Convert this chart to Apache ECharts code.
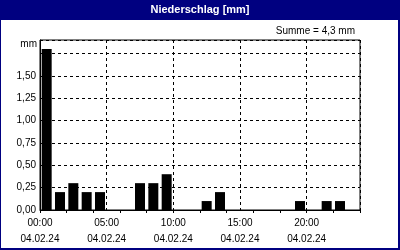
<!DOCTYPE html>
<html><head><meta charset="utf-8">
<script src="https://cdn.jsdelivr.net/npm/echarts@6/dist/echarts.min.js"></script>
<style>html,body{margin:0;padding:0;background:#fff}#c{width:400px;height:250px}</style>
</head><body><div id="c"></div>
<script>
var hours = ['00','01','02','03','04','05','06','07','08','09','10','11','12','13','14','15','16','17','18','19','20','21','22','23'];
var precip = [1.8,0.2,0.3,0.2,0.2,0,0,0.3,0.3,0.4,0,0,0.1,0.2,0,0,0,0,0,0.1,0,0.1,0.1,0];
var timeLabels = {0:'00:00',5:'05:00',10:'10:00',15:'15:00',20:'20:00'};
var dateLabel = '04.02.24';
var yTicks = [0,0.25,0.5,0.75,1.0,1.25,1.5];
var titleText = 'Niederschlag [mm]';
var sumText = 'Summe = 4,3 mm';
var unitText = 'mm';

var FONT = 'Liberation Sans';
var chart = echarts.init(document.getElementById('c'), null, {renderer:'canvas'});
chart.setOption({
  backgroundColor: '#000080',
  animation: false,
  textStyle: {fontFamily: FONT},
  graphic: [
    {type:'rect', z:-10, shape:{x:1,y:20,width:397,height:228}, style:{fill:'#ffffff'}, silent:true},
    {type:'text', x:200, y:10, style:{text:titleText, fill:'#ffffff', font:'bold 11px "Liberation Sans"', textAlign:'center', textVerticalAlign:'middle'}},
    {type:'text', x:355, y:31, style:{text:sumText, fill:'#000', font:'10px "Liberation Sans"', textAlign:'right', textVerticalAlign:'middle'}},
    {type:'text', x:37, y:44, style:{text:unitText, fill:'#000', font:'10px "Liberation Sans"', textAlign:'right', textVerticalAlign:'middle'}}
  ],
  grid: {left:40, top:40, width:320, height:170, show:true, borderColor:'#000', borderWidth:1, backgroundColor:'#ffffff'},
  xAxis: [
    {type:'category', data:hours, boundaryGap:true,
     axisLine:{lineStyle:{color:'#000',width:1}},
     axisTick:{show:true, length:3, lineStyle:{color:'#000'}},
     axisLabel:{show:false}, splitLine:{show:false}},
    {type:'value', min:0, max:24, interval:5, position:'bottom',
     axisLine:{show:false}, axisTick:{show:false},
     splitLine:{show:true, lineStyle:{color:'#000', type:[3,3], width:1}},
     axisLabel:{show:true, margin:5, color:'#000', fontSize:10, fontFamily:FONT, lineHeight:16,
       showMaxLabel:false,
       formatter:function(v){ return timeLabels[v] ? timeLabels[v] + '\n' + dateLabel : ''; }}}
  ],
  yAxis: {type:'value', min:0, max:1.9, interval:0.25,
    axisLine:{show:true, lineStyle:{color:'#000'}}, axisTick:{show:false},
    splitLine:{show:true, lineStyle:{color:'#000', type:[3,3], width:1}},
    axisLabel:{margin:4, color:'#000', fontSize:10, fontFamily:FONT,
      formatter:function(v){ return yTicks.indexOf(Math.round(v*100)/100) >= 0 ? v.toFixed(2).replace('.',',') : ''; }}},
  series: [{type:'bar', xAxisIndex:0, data:precip, barWidth:10, itemStyle:{color:'#000'}}]
});
</script></body></html>
